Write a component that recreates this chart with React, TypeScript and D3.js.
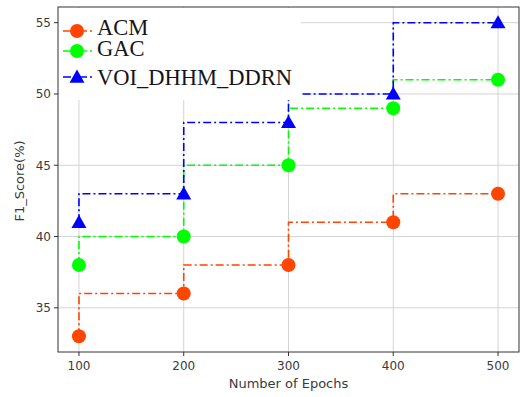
import React from 'react';
import * as d3 from 'd3';

// values
const epochs = [100, 200, 300, 400, 500];
const acmScores = [33, 36, 38, 41, 43];
const gacScores = [38, 40, 45, 49, 51];
const voiScores = [41, 43, 48, 50, 55];
const xTicks = [100, 200, 300, 400, 500];
const yTicks = [35, 40, 45, 50, 55];
const seriesNames = ['ACM', 'GAC', 'VOI_DHHM_DDRN'];

const W = 526;
const H = 397;
const margin = { top: 7, right: 7, bottom: 45, left: 58 };

const series = [
  { name: seriesNames[0], values: acmScores, color: '#ff4500', marker: 'circle' },
  { name: seriesNames[1], values: gacScores, color: '#00ff00', marker: 'circle' },
  { name: seriesNames[2], values: voiScores, color: '#0000ff', marker: 'triangle' },
];

const Marker = ({ kind, x, y, color }: { kind: string; x: number; y: number; color: string }) => {
  if (kind === 'triangle') {
    const s = 7.5;
    return <path d={`M${x},${y - s}L${x + s},${y + s * 0.75}L${x - s},${y + s * 0.75}Z`} fill={color} />;
  }
  return <circle cx={x} cy={y} r={7} fill={color} />;
};

export default function App() {
  const x = d3.scaleLinear().domain([80, 520]).range([margin.left, W - margin.right]);
  const y = d3.scaleLinear().domain([31.9, 56.1]).range([H - margin.bottom, margin.top]);

  const line = d3.line<number>()
    .x((_, i) => x(epochs[i]))
    .y(d => y(d))
    .curve(d3.curveStepBefore);

  const left = margin.left;
  const right = W - margin.right;
  const top = margin.top;
  const bottom = H - margin.bottom;

  // legend entries (baselines are uneven in the reference)
  const legendRows = [31, 51, 77];
  const legendBase = [35, 56, 85];

  return (
    <svg width={W} height={H} style={{ position: 'absolute', left: 0, top: 0, background: '#fff' }}
      fontFamily="DejaVu Sans, sans-serif">
      <rect x={0} y={0} width={W} height={H} fill="#fff" />
      {/* grid */}
      <g stroke="#d4d4d4" strokeWidth={1}>
        {xTicks.map(t => <line key={'gx' + t} x1={x(t)} x2={x(t)} y1={top} y2={bottom} />)}
        {yTicks.map(t => <line key={'gy' + t} x1={left} x2={right} y1={y(t)} y2={y(t)} />)}
      </g>
      {/* series */}
      {series.map(s => (
        <g key={s.name}>
          <path d={line(s.values) || ''} fill="none" stroke={s.color} strokeWidth={1.6}
            strokeDasharray="8,3,2,3" />
          {s.values.map((v, i) => (
            <Marker key={i} kind={s.marker} x={x(epochs[i])} y={y(v)} color={s.color} />
          ))}
        </g>
      ))}
      {/* legend */}
      <rect x={left + 1} y={top + 1} width={242} height={92} fill="#fff" />
      {series.map((s, i) => (
        <g key={'lg' + s.name}>
          <line x1={63} x2={93} y1={legendRows[i]} y2={legendRows[i]} stroke={s.color}
            strokeWidth={1.6} strokeDasharray="8,3,2,3" />
          <Marker kind={s.marker} x={77} y={legendRows[i]} color={s.color} />
          <text x={97} y={legendBase[i]} fontFamily="Liberation Serif, Times New Roman, serif"
            fontSize={22.5} fill="#151520">{s.name}</text>
        </g>
      ))}
      {/* axes frame */}
      <rect x={left} y={top} width={right - left} height={bottom - top} fill="none" stroke="#333" strokeWidth={1} />
      {/* x ticks */}
      {xTicks.map(t => (
        <g key={'xt' + t}>
          <line x1={x(t)} x2={x(t)} y1={bottom} y2={bottom + 4} stroke="#333" />
          <text x={x(t)} y={bottom + 18} textAnchor="middle" fontSize={12} fill="#3a3a3a">{t}</text>
        </g>
      ))}
      {yTicks.map(t => (
        <g key={'yt' + t}>
          <line x1={left - 4} x2={left} y1={y(t)} y2={y(t)} stroke="#333" />
          <text x={left - 7} y={y(t) + 4.5} textAnchor="end" fontSize={12} fill="#3a3a3a">{t}</text>
        </g>
      ))}
      <text x={(left + right) / 2} y={388} textAnchor="middle" fontSize={13} fill="#3a3a3a">Number of Epochs</text>
      <text transform={`translate(24,181) rotate(-90)`} textAnchor="middle" fontSize={13}
        fill="#3a3a3a">F1_Score(%)</text>
    </svg>
  );
}
